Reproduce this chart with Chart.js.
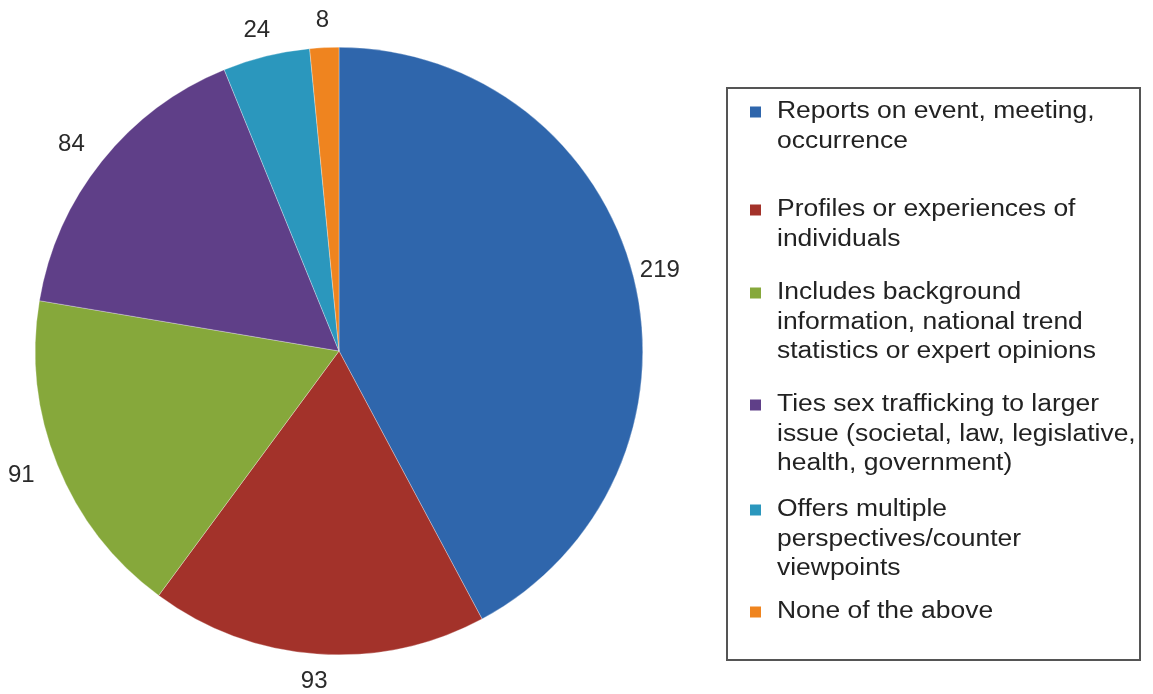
<!DOCTYPE html>
<html>
<head>
<meta charset="utf-8">
<script src="https://cdn.jsdelivr.net/npm/chart.js@4"></script>
<style>
  html, body { margin: 0; padding: 0; background: #fff; }
  #wrap { width: 1153px; height: 694px; }
</style>
</head>
<body>
<div id="wrap"><canvas id="canvas1" width="1153" height="694"></canvas></div>
<script>
// Donnees du graphique
let categories = [
  ['Reports on event, meeting,', 'occurrence'],
  ['Profiles or experiences of', 'individuals'],
  ['Includes background', 'information, national trend', 'statistics or expert opinions'],
  ['Ties sex trafficking to larger', 'issue (societal, law, legislative,', 'health, government)'],
  ['Offers multiple', 'perspectives/counter', 'viewpoints'],
  ['None of the above']
];
let counts = [219, 93, 91, 84, 24, 8];
let colors = ['#2f66ac', '#a3322a', '#86a83b', '#5f3f88', '#2b97bd', '#ef841f'];

// Etiquettes de valeur a l'exterieur des parts
const outsideLabels = {
  id: 'outsideLabels',
  afterDatasetsDraw(chart) {
    let ctx = chart.ctx;
    let meta = chart.getDatasetMeta(0);
    ctx.save();
    ctx.font = '24px "Liberation Sans", Arial, sans-serif';
    ctx.fillStyle = '#2a2a2a';
    ctx.textAlign = 'center';
    ctx.textBaseline = 'middle';
    meta.data.forEach(function(arc, i) {
      let p = arc.getProps(['x', 'y', 'startAngle', 'endAngle', 'outerRadius'], true);
      let mid = (p.startAngle + p.endAngle) / 2;
      let r = p.outerRadius + 27;
      let c = Math.cos(mid);
      // Excel pousse un peu plus les etiquettes de gauche
      let x = p.x + c * r + Math.min(0, c) * 12;
      ctx.fillText(String(counts[i]), x, p.y + Math.sin(mid) * r);
    });
    ctx.restore();
  }
};

// Legende dans un cadre a droite (texte un peu etire comme l'original)
const boxLegend = {
  id: 'boxLegend',
  afterDraw(chart) {
    let ctx = chart.ctx;
    let left = 727, top = 88, right = 1140, bottom = 660;
    let lineH = 29.5;
    let rowY = [112, 210, 293, 405, 510, 612];
    ctx.save();
    ctx.strokeStyle = '#555';
    ctx.lineWidth = 2;
    ctx.strokeRect(left, top, right - left, bottom - top);
    ctx.textBaseline = 'middle';
    for (let i = 0; i < categories.length; i++) {
      let y = rowY[i];
      ctx.fillStyle = colors[i];
      ctx.fillRect(750, y - 5.5, 11, 11);
      ctx.fillStyle = '#222';
      for (let j = 0; j < categories[i].length; j++) {
        ctx.save();
        ctx.translate(777, y + j * lineH);
        ctx.scale(1.15, 1);
        ctx.font = '23px "Liberation Sans", Arial, sans-serif';
        ctx.fillText(categories[i][j], 0, 0);
        ctx.restore();
      }
    }
    ctx.restore();
  }
};

let canvas1 = document.getElementById('canvas1');
let myChart1 = new Chart(canvas1, {
  type: 'pie',
  data: {
    labels: categories.map(function(c) { return c.join(' '); }),
    datasets: [{
      data: counts,
      backgroundColor: colors,
      borderColor: 'rgba(255,255,255,0.6)',
      borderWidth: 0.5
    }]
  },
  options: {
    responsive: false,
    animation: false,
    layout: { padding: { left: 35, top: 47, right: 510, bottom: 39 } },
    plugins: {
      legend: { display: false },
      tooltip: { enabled: false }
    }
  },
  plugins: [outsideLabels, boxLegend]
});
</script>
</body>
</html>
